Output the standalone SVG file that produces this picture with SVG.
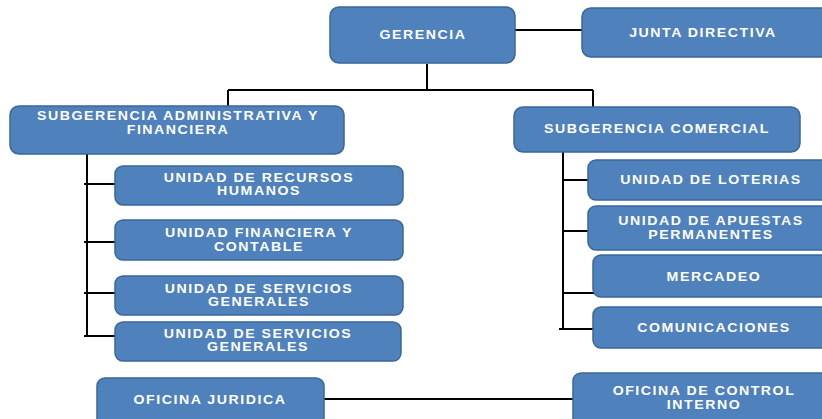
<svg xmlns="http://www.w3.org/2000/svg" width="822" height="419" viewBox="0 0 822 419">
<defs>
<style>
.box{fill:#4f81bd;stroke:#3a6798;stroke-width:1.5}
.t{font-family:"Liberation Sans",Arial,sans-serif;font-weight:bold;font-size:12px;fill:#ffffff;text-anchor:middle;letter-spacing:1.3px;transform-box:fill-box;transform-origin:center;transform:scaleX(1.18)}
.c{fill:none;stroke:#000000;stroke-width:2}
</style>
</defs>
<rect width="822" height="419" fill="#ffffff"/>
<g id="connectors">
<path class="c" d="M515 30 H582"/>
<path class="c" d="M427 64 V90 M228 90 H593 M228 90 V106 M593 90 V107"/>
<path class="c" d="M87 154 V336 M84 184 H116 M84 242 H116 M84 293 H116 M84 336 H116"/>
<path class="c" d="M563 152 V329 M563 180 H589 M563 231 H589 M563 293 H594 M559 329 H594"/>
<path class="c" d="M324 399 H573"/>
</g>
<g id="gerencia"><rect class="box" x="330" y="7" width="185" height="56" rx="9"/><text class="t" x="423" y="39">GERENCIA</text></g>
<g id="junta"><rect class="box" x="582" y="8" width="250" height="49" rx="9"/><text class="t" x="703" y="37">JUNTA DIRECTIVA</text></g>
<g id="sub-admin"><rect class="box" x="10" y="106" width="334" height="48" rx="9"/><text class="t" x="178" y="120">SUBGERENCIA ADMINISTRATIVA Y</text><text class="t" x="178" y="134">FINANCIERA</text></g>
<g id="sub-comercial"><rect class="box" x="514" y="107" width="286" height="45" rx="9"/><text class="t" x="657" y="133">SUBGERENCIA COMERCIAL</text></g>
<g id="rrhh"><rect class="box" x="115" y="166" width="288" height="39" rx="8"/><text class="t" x="259" y="182">UNIDAD DE RECURSOS</text><text class="t" x="259" y="195">HUMANOS</text></g>
<g id="financiera"><rect class="box" x="115" y="220" width="288" height="40" rx="8"/><text class="t" x="259" y="237">UNIDAD FINANCIERA Y</text><text class="t" x="259" y="251">CONTABLE</text></g>
<g id="servicios1"><rect class="box" x="115" y="276" width="288" height="39" rx="8"/><text class="t" x="259" y="293">UNIDAD DE SERVICIOS</text><text class="t" x="259" y="306">GENERALES</text></g>
<g id="servicios2"><rect class="box" x="115" y="322" width="286" height="39" rx="8"/><text class="t" x="258" y="338">UNIDAD DE SERVICIOS</text><text class="t" x="258" y="351">GENERALES</text></g>
<g id="loterias"><rect class="box" x="588" y="160" width="250" height="40" rx="8"/><text class="t" x="711" y="184">UNIDAD DE LOTERIAS</text></g>
<g id="apuestas"><rect class="box" x="588" y="206" width="250" height="44" rx="8"/><text class="t" x="711" y="225">UNIDAD DE APUESTAS</text><text class="t" x="711" y="239">PERMANENTES</text></g>
<g id="mercadeo"><rect class="box" x="593" y="255" width="245" height="42" rx="8"/><text class="t" x="714" y="281">MERCADEO</text></g>
<g id="comunicaciones"><rect class="box" x="593" y="307" width="245" height="41" rx="8"/><text class="t" x="714" y="332">COMUNICACIONES</text></g>
<g id="juridica"><rect class="box" x="97" y="378" width="227" height="50" rx="8"/><text class="t" x="210" y="404">OFICINA JURIDICA</text></g>
<g id="control"><rect class="box" x="573" y="373" width="265" height="55" rx="8"/><text class="t" x="704" y="395">OFICINA DE CONTROL</text><text class="t" x="704" y="409">INTERNO</text></g>
</svg>
